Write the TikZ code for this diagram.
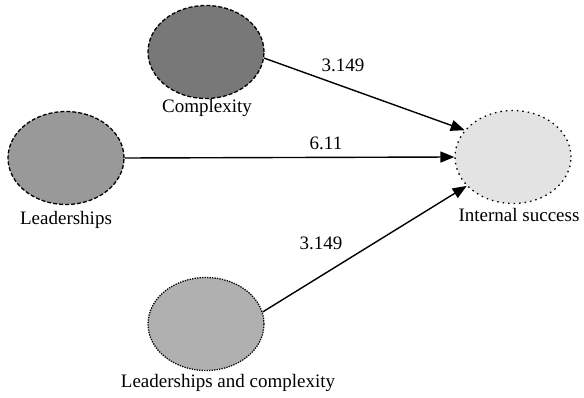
\documentclass[tikz,border=0pt]{standalone}
\usepackage{fontspec}
\setmainfont{Liberation Serif}
\usetikzlibrary{shapes.geometric,arrows.meta}

\begin{document}
\begin{tikzpicture}[x=1pt,y=-1pt,
	construct/.style={ellipse, draw=black, line width=1.3pt, inner sep=0pt,
		minimum width=116pt, minimum height=93pt},
	dashedline/.style={dash pattern=on 4pt off 2pt},
	densedots/.style={dash pattern=on 1.3pt off 1.2pt},
	loosedots/.style={dash pattern=on 1.5pt off 4pt},
	caption/.style={font=\fontsize{19}{22}\selectfont, inner sep=0pt},
	path/.style={line width=1.4pt, -{Triangle[length=14pt,width=11pt]}}]
			%%%%% START %%%%%
			\useasboundingbox (0, 0) rectangle (584, 398);
			
			\node[construct, dashedline, fill=black!53] (cplx) at (206, 52) {};
			\node[caption] (cplxlab) at (207, 108) {Complexity};
			
			\node[construct, dashedline, fill=black!40] (lead) at (66, 158) {};
			\node[caption] (leadlab) at (66, 220) {Leaderships};
			
			\node[construct, loosedots, fill=black!11] (succ) at (513, 157) {};
			\node[caption] (succlab) at (519, 215) {Internal success};
			
			\node[construct, densedots, fill=black!31] (both) at (206, 324) {};
			\node[caption] (bothlab) at (228, 383) {Leaderships and complexity};
			
			\draw[path] (cplx.-6) -- (succ.151);
			\draw[path] (lead.east) -- (succ.west);
			\draw[path] (both.12) -- (succ.212);
			
			\node[caption] (w1) at (343, 65) {3.149};
			\node[caption] (w2) at (326, 143) {6.11};
			\node[caption] (w3) at (321, 243) {3.149};
			%%%%% END %%%%%
		\end{tikzpicture}
\end{document}
